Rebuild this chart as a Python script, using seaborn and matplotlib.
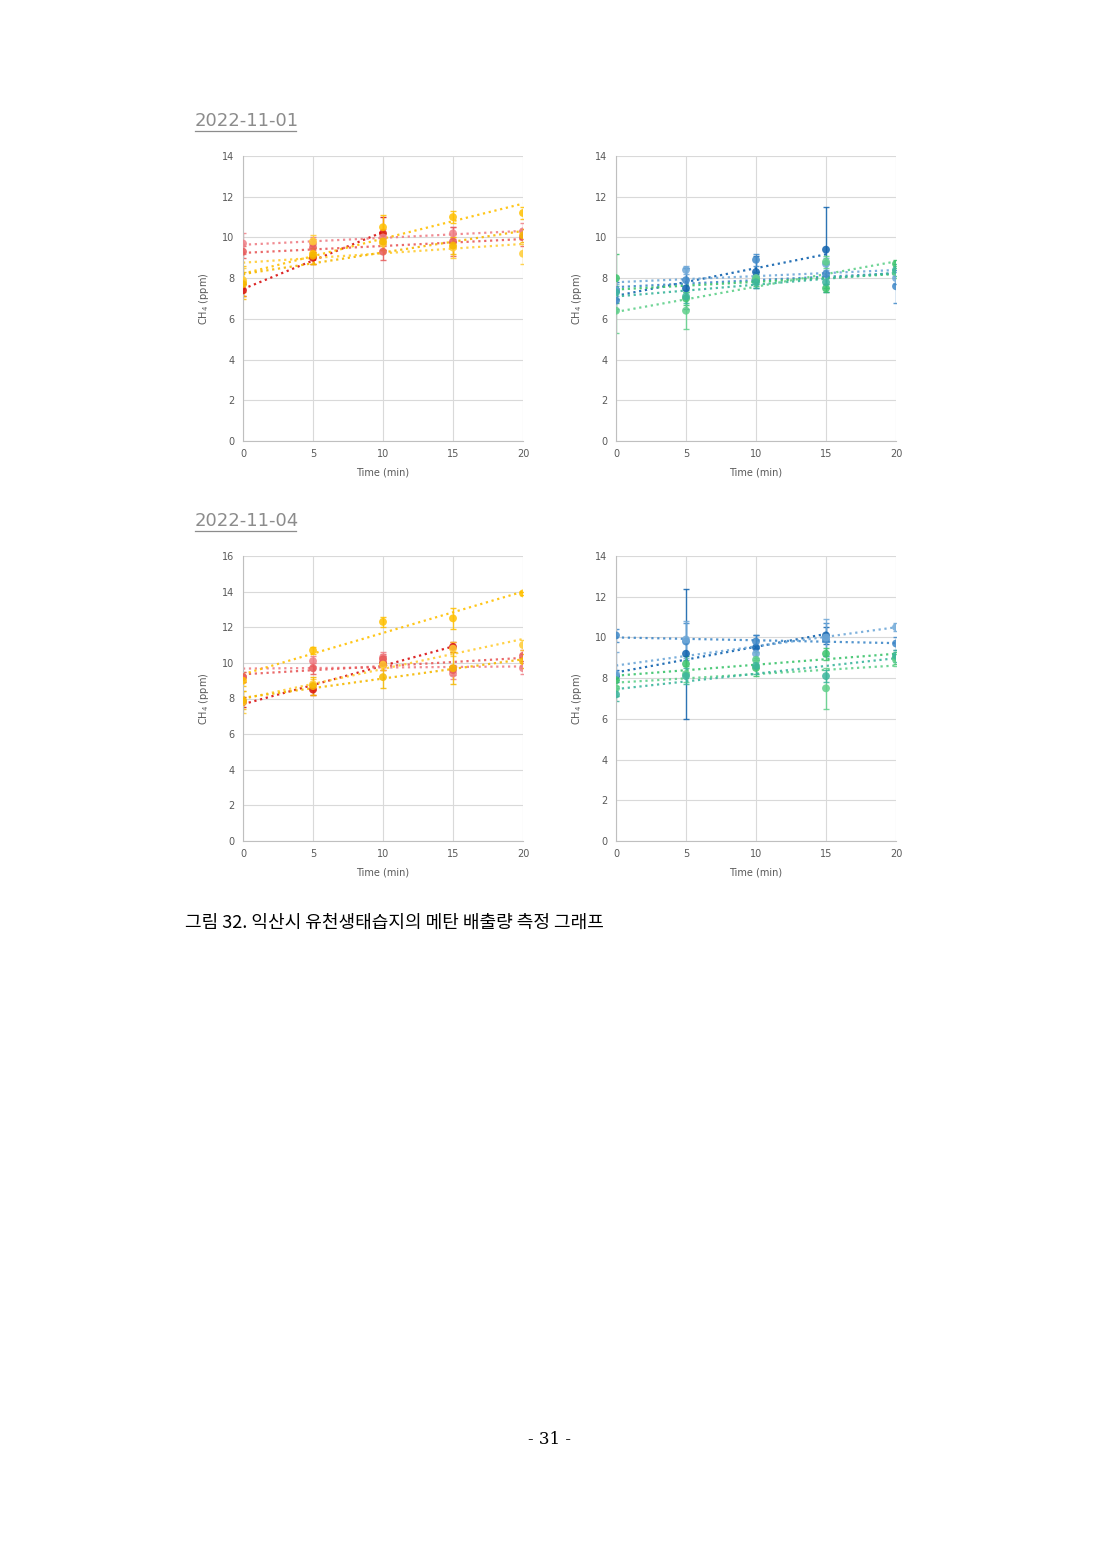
import numpy as np
import pandas as pd
import matplotlib
matplotlib.use("Agg")
import matplotlib.pyplot as plt
import seaborn as sns
from matplotlib.lines import Line2D

times = [0, 5, 10, 15, 20]
nan = np.nan

# Panel A: 2022-11-01, left (red/yellow)
a_vals = {
    "R1": [7.4, 9.0, 10.2, nan, nan],
    "R2": [9.7, 9.7, 10.0, 10.2, 10.3],
    "R3": [9.3, 9.5, 9.3, 9.8, 10.0],
    "Y1": [7.8, 9.2, 10.5, 11.0, 11.2],
    "Y2": [7.9, 9.8, 9.7, 9.5, 9.2],
    "Y3": [7.7, 9.1, 9.8, 9.6, 10.1],
}
a_err = {
    "R1": [0.3, 0.3, 0.8, 0, 0], "R2": [0.5, 0.3, 0.4, 0.3, 0.4], "R3": [0.3, 0.4, 0.4, 0.7, 0.4],
    "Y1": [0.8, 0.5, 0.6, 0.3, 0.3], "Y2": [0.6, 0.3, 0.3, 0.5, 0.5], "Y3": [0.6, 0.4, 0.4, 0.4, 0.3],
}
# Panel B: 2022-11-01, right (blue/green)
b_vals = {
    "B1": [7.4, 7.5, 8.3, 9.4, nan],
    "B2": [6.9, 7.9, 8.9, 8.2, 7.6],
    "B3": [7.4, 8.4, 8.0, 8.7, 8.0],
    "G1": [8.0, 7.0, 7.9, 7.5, 8.7],
    "G2": [6.4, 6.4, 8.0, 8.8, 8.3],
    "G3": [7.3, 7.1, 7.8, 7.8, 8.4],
}
b_err = {
    "B1": [0.4, 1.0, 0.8, 2.1, 0], "B2": [0.4, 0.6, 0.3, 0.5, 0.8], "B3": [0.3, 0.2, 0.3, 0.3, 0.3],
    "G1": [1.2, 0.3, 0.3, 0.2, 0.2], "G2": [1.1, 0.9, 0.3, 0.3, 0.3], "G3": [0.3, 0.3, 0.3, 0.3, 0.3],
}
# Panel C: 2022-11-04, left
c_vals = {
    "R1": [7.8, 8.5, 10.0, 10.9, nan],
    "R2": [9.2, 10.1, 10.3, 9.4, 9.7],
    "R3": [9.2, 9.7, 10.2, 9.6, 10.4],
    "Y1": [9.0, 10.7, 12.3, 12.5, 13.9],
    "Y2": [7.8, 8.8, 9.9, 10.8, 11.0],
    "Y3": [7.9, 8.7, 9.2, 9.7, 10.1],
}
c_err = {
    "R1": [0.3, 0.3, 0.4, 0.3, 0], "R2": [0.3, 0.3, 0.3, 0.3, 0.3], "R3": [0.3, 0.3, 0.3, 0.3, 0.3],
    "Y1": [0.3, 0.2, 0.3, 0.6, 0.1], "Y2": [0.6, 0.3, 0.3, 0.4, 0.3], "Y3": [0.5, 0.5, 0.6, 0.9, 0.4],
}
# Panel D: 2022-11-04, right
d_vals = {
    "B1": [8.1, 9.2, 9.5, 10.1, nan],
    "B2": [10.1, 9.8, 9.8, 9.9, 9.7],
    "B3": [8.2, 9.9, 9.2, 10.0, 10.5],
    "G1": [7.9, 8.7, 8.5, 9.2, 9.0],
    "G2": [7.5, 8.2, 8.9, 7.5, 8.9],
    "G3": [7.2, 8.1, 8.6, 8.1, 9.1],
}
d_err = {
    "B1": [0.3, 3.2, 0.6, 0.4, 0], "B2": [0.3, 0.9, 0.3, 0.8, 0.3], "B3": [1.1, 0.9, 0.4, 0.9, 0.2],
    "G1": [0.3, 0.4, 0.4, 0.3, 0.3], "G2": [0.4, 0.4, 0.4, 1.0, 0.3], "G3": [0.3, 0.4, 0.4, 0.3, 0.3],
}

colors = {
    "R1": "#d90f0f", "R2": "#ef7f86", "R3": "#e85a5a",
    "Y1": "#ffc000", "Y2": "#ffcc33", "Y3": "#f5b800",
    "B1": "#0f62ae", "B2": "#3f88c8", "B3": "#6fa8d8",
    "G1": "#3cc46c", "G2": "#5fd08a", "G3": "#3bb59c",
}

fig = plt.figure(figsize=(11, 15.54), dpi=100)
W, H = 1100, 1554

def add_axes(x0, y0, x1, y1):
    return fig.add_axes([x0 / W, 1 - y1 / H, (x1 - x0) / W, (y1 - y0) / H])

def draw(ax, vals, errs, ymax):
    for name, v in vals.items():
        df = pd.DataFrame({"t": times, "y": v, "e": errs[name]}).dropna()
        c = colors[name]
        ax.errorbar(df["t"], df["y"], yerr=df["e"], fmt="none", ecolor=c,
                    elinewidth=1, capsize=2.5, alpha=0.85, zorder=2)
        sns.regplot(data=df, x="t", y="y", ax=ax, scatter=False, ci=None,
                    line_kws=dict(color=c, ls=":", lw=1.6, alpha=0.9))
        sns.scatterplot(data=df, x="t", y="y", ax=ax, color=c, s=32,
                        edgecolor="none", alpha=0.85, zorder=3)
    ax.set_xlim(0, 20)
    ax.set_ylim(0, ymax)
    ax.set_xticks(times)
    ax.set_yticks(np.arange(0, ymax + 1, 2))
    ax.grid(True, color="#d9d9d9", lw=0.8)
    ax.set_axisbelow(True)
    for s in ax.spines.values():
        s.set_visible(False)
    ax.spines["left"].set_visible(True)
    ax.spines["bottom"].set_visible(True)
    ax.spines["left"].set_color("#bfbfbf")
    ax.spines["bottom"].set_color("#bfbfbf")
    ax.tick_params(length=0, labelsize=7, labelcolor="#595959", pad=6)
    ax.set_xlabel("Time (min)", fontsize=7, color="#595959", labelpad=6)
    ax.set_ylabel("CH$_4$ (ppm)", fontsize=7, color="#595959", labelpad=8)

axA = add_axes(243, 156, 523, 441); draw(axA, a_vals, a_err, 14)
axB = add_axes(616, 156, 896, 441); draw(axB, b_vals, b_err, 14)
axC = add_axes(243, 556, 523, 841); draw(axC, c_vals, c_err, 16)
axD = add_axes(616, 556, 896, 841); draw(axD, d_vals, d_err, 14)

for label, ypix in [("2022-11-01", 121), ("2022-11-04", 521)]:
    fig.text(195 / W, 1 - ypix / H, label, fontsize=13, color="#8c8c8c",
             va="center", ha="left", family="DejaVu Sans")
    fig.add_artist(Line2D([195 / W, 296 / W], [1 - (ypix + 10) / H] * 2,
                          color="#8c8c8c", lw=0.9))

fig.text(185 / W, 1 - 923 / H, "그림 32. 익산시 유천생태습지의 메탄 배출량 측정 그래프",
         fontsize=13, family="Noto Sans CJK KR", va="center", ha="left")
fig.text(550 / W, 1 - 1440 / H, "- 31 -", fontsize=12, family="DejaVu Serif",
         va="center", ha="center")

fig.savefig("out.png", dpi=100, facecolor="white")
